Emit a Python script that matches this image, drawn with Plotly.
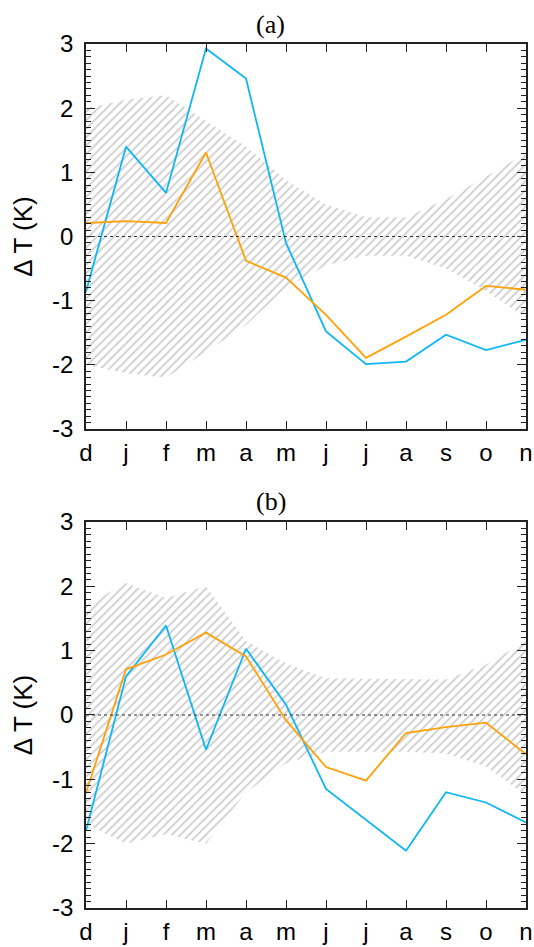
import plotly.graph_objects as go

months = ["d", "j", "f", "m", "a", "m", "j", "j", "a", "s", "o", "n"]
xpos = list(range(len(months)))

# Panel (a)
a_blue = [-0.86, 1.40, 0.68, 2.93, 2.46, -0.10, -1.48, -1.99, -1.95, -1.53, -1.77, -1.61]
a_orange = [0.21, 0.24, 0.21, 1.31, -0.38, -0.64, -1.22, -1.89, -1.56, -1.22, -0.77, -0.83]
a_upper = [2.0, 2.13, 2.2, 1.8, 1.4, 0.88, 0.5, 0.3, 0.3, 0.58, 0.93, 1.3]
a_lower = [-2.0, -2.13, -2.2, -1.8, -1.38, -0.8, -0.45, -0.3, -0.3, -0.5, -0.85, -1.27]

# Panel (b)
b_blue = [-1.80, 0.60, 1.39, -0.54, 1.03, 0.16, -1.15, -1.63, -2.11, -1.20, -1.36, -1.67]
b_orange = [-1.21, 0.71, 0.94, 1.28, 0.91, -0.08, -0.81, -1.02, -0.28, -0.19, -0.12, -0.61]
b_upper = [1.7, 2.05, 1.82, 2.0, 1.15, 0.8, 0.57, 0.56, 0.56, 0.55, 0.78, 1.15]
b_lower = [-1.7, -2.0, -1.85, -2.0, -1.2, -0.75, -0.57, -0.57, -0.57, -0.6, -0.8, -1.25]

ytick_vals = [-3, -2, -1, 0, 1, 2, 3]
ytick_text = ["-3", "-2", "-1", "0", "1", "2", "3"]
yminor_vals = [round(-3 + 0.1 * i, 1) for i in range(61)]

BLUE = "#0DB6F7"
ORANGE = "#FFA10A"
HATCH = "#9a9a9a"

fig = go.Figure()

panels = [
    ("x", "y", a_blue, a_orange, a_upper, a_lower),
    ("x2", "y2", b_blue, b_orange, b_upper, b_lower),
]
for xa, ya, blue, orange, up, lo in panels:
    fig.add_trace(go.Scatter(x=xpos, y=lo, xaxis=xa, yaxis=ya, mode="lines",
                             line=dict(width=0, color="rgba(0,0,0,0)"),
                             showlegend=False, hoverinfo="skip"))
    fig.add_trace(go.Scatter(x=xpos, y=up, xaxis=xa, yaxis=ya, mode="lines",
                             line=dict(width=0, color="rgba(0,0,0,0)"),
                             fill="tonexty", fillcolor="rgba(0,0,0,0)",
                             fillpattern=dict(shape="/", fgcolor=HATCH, bgcolor="rgba(0,0,0,0)",
                                              size=6, solidity=0.3),
                             showlegend=False, hoverinfo="skip"))
    fig.add_trace(go.Scatter(x=xpos, y=blue, xaxis=xa, yaxis=ya, mode="lines",
                             line=dict(color=BLUE, width=1.8), showlegend=False))
    fig.add_trace(go.Scatter(x=xpos, y=orange, xaxis=xa, yaxis=ya, mode="lines",
                             line=dict(color=ORANGE, width=1.8), showlegend=False))

tickfont = dict(family="Liberation Sans, Arial, sans-serif", size=24, color="black")

xcommon = dict(
    range=[0, 11], tickmode="array", tickvals=xpos, ticktext=months,
    ticks="inside", ticklen=8, tickwidth=1.3, tickcolor="#222",
    showline=True, linecolor="#222", linewidth=1.5, mirror="allticks",
    showgrid=False, zeroline=False, tickfont=tickfont, ticklabelstandoff=1,
    automargin=False,
)
ycommon = dict(
    range=[-3, 3], tickmode="array", tickvals=ytick_vals, ticktext=ytick_text,
    ticks="inside", ticklen=9, tickwidth=1.3, tickcolor="#222",
    minor=dict(tickmode="array", tickvals=yminor_vals, ticks="inside", ticklen=5,
               tickwidth=1.1, tickcolor="#222", showgrid=False),
    showline=True, linecolor="#222", linewidth=1.5, mirror="allticks",
    showgrid=False, zeroline=False, tickfont=tickfont, ticklabelstandoff=6,
    automargin=False,
    title=dict(text="Δ T (K)", font=dict(family="Liberation Sans, Arial, sans-serif", size=26, color="black"),
               standoff=12),
)

fig.update_layout(
    width=534, height=947,
    margin=dict(l=86, r=8, t=44, b=39, autoexpand=False),
    plot_bgcolor="white", paper_bgcolor="white",
    showlegend=False,
    xaxis=dict(anchor="y", domain=[0, 1], **xcommon),
    yaxis=dict(anchor="x", domain=[0.5544, 1.0], **ycommon),
    xaxis2=dict(anchor="y2", domain=[0, 1], **xcommon),
    yaxis2=dict(anchor="x2", domain=[0.0, 0.4468], **ycommon),
)

for xr, yr in [("x", "y"), ("x2", "y2")]:
    fig.add_shape(type="line", xref=f"{xr} domain", yref=yr, x0=0, x1=1, y0=0, y1=0,
                  line=dict(color="#333", width=1.2, dash="dot"), layer="above")

title_font = dict(family="Liberation Serif, DejaVu Serif, serif", size=26, color="black")
fig.add_annotation(text="(a)", xref="paper", yref="paper", x=0.42, y=1.023,
                   xanchor="center", yanchor="middle", showarrow=False, font=title_font)
fig.add_annotation(text="(b)", xref="paper", yref="paper", x=0.42, y=0.47,
                   xanchor="center", yanchor="middle", showarrow=False, font=title_font)

fig.write_html("out.html")
